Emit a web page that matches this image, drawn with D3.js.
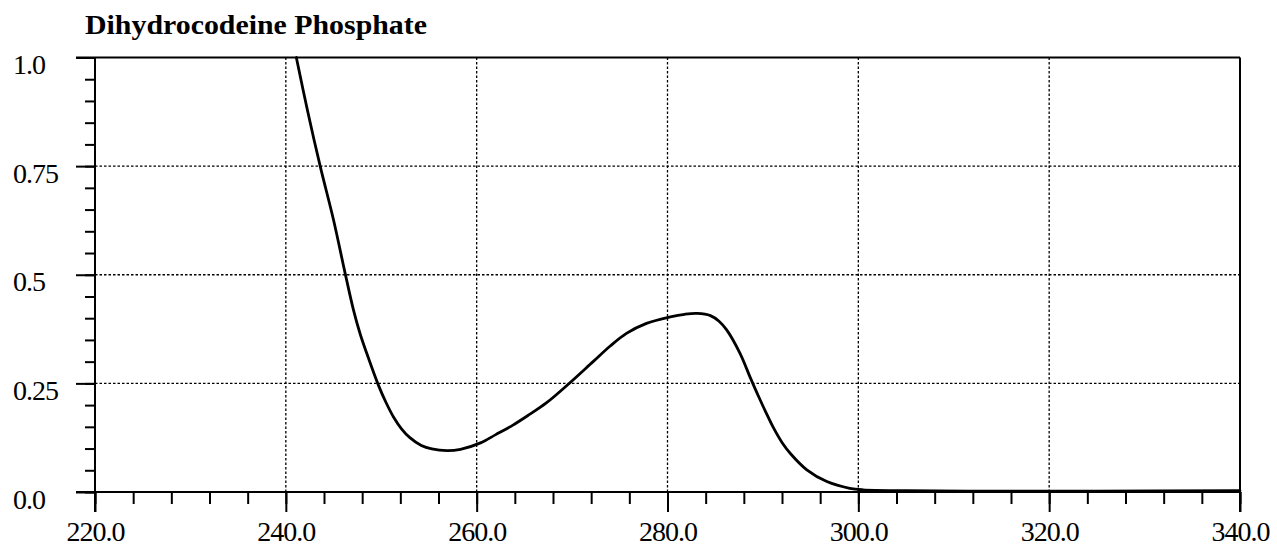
<!DOCTYPE html>
<html>
<head>
<meta charset="utf-8">
<script src="https://cdn.jsdelivr.net/npm/d3@7"></script>
<style>
  html, body { margin: 0; padding: 0; background: #fff; }
  svg { display: block; }
</style>
</head>
<body>
<svg id="chart" width="1277" height="546"></svg>
<script>
const title = "Dihydrocodeine Phosphate";
const wavelength = [241.1, 242.3, 243.6, 245.0, 246.2, 247.1, 247.8, 248.5, 249.7, 250.5, 251.3, 252.1, 253.0, 254.2, 255.3, 256.9, 258.3, 260.4, 262.0, 263.8, 265.5, 267.3, 269.6, 272.2, 274.0, 275.7, 277.8, 280.3, 281.8, 283.1, 284.5, 285.4, 286.2, 287.6, 288.7, 289.5, 290.3, 291.1, 292.0, 292.9, 294.6, 296.7, 299.1, 300.5, 305, 315, 325, 340];
const absorbance = [1.0, 0.875, 0.75, 0.626, 0.505, 0.418, 0.363, 0.318, 0.246, 0.206, 0.172, 0.146, 0.125, 0.107, 0.099, 0.095, 0.098, 0.113, 0.132, 0.154, 0.178, 0.205, 0.248, 0.300, 0.336, 0.365, 0.388, 0.403, 0.409, 0.411, 0.406, 0.393, 0.373, 0.319, 0.262, 0.222, 0.184, 0.148, 0.114, 0.088, 0.051, 0.024, 0.0085, 0.005, 0.003, 0.002, 0.002, 0.003];
const xTickLabels = ["220.0", "240.0", "260.0", "280.0", "300.0", "320.0", "340.0"];
const yTickLabels = ["0.0", "0.25", "0.5", "0.75", "1.0"];
const xMajor = [220, 240, 260, 280, 300, 320, 340];
const yMajor = [0, 0.25, 0.5, 0.75, 1.0];

(function () {
const svg = d3.select("#chart");
const FONT = "'Liberation Serif', 'Times New Roman', serif";
const mLeft = 95, mRight = 1240, mTop = 57.5, mBottom = 492;
const x = d3.scaleLinear().domain([220, 340]).range([mLeft, mRight]);
const y = d3.scaleLinear().domain([0, 1]).range([mBottom, mTop]);

// title
svg.append("text").attr("x", 85).attr("y", 34)
  .attr("font-family", FONT).attr("font-size", 28).attr("font-weight", "bold")
  .attr("textLength", 342).attr("lengthAdjust", "spacingAndGlyphs").text(title);

// grid lines (dotted)
const grid = svg.append("g").attr("stroke", "#000").attr("stroke-width", 1.3).attr("stroke-dasharray", "2.5,2");
grid.selectAll("line.vx").data(xMajor.slice(1, -1)).join("line")
  .attr("x1", d => x(d)).attr("x2", d => x(d)).attr("y1", mTop).attr("y2", mBottom);
grid.selectAll("line.hy").data(yMajor.slice(1, -1)).join("line")
  .attr("x1", mLeft).attr("x2", mRight).attr("y1", d => y(d)).attr("y2", d => y(d));

// minor x ticks
const xMinorAxis = d3.axisBottom(x).tickValues(d3.range(220, 341, 4)).tickSize(12).tickFormat("");
const gxm = svg.append("g").attr("transform", `translate(0,${mBottom})`).call(xMinorAxis);
gxm.select(".domain").remove();
gxm.selectAll("line").attr("stroke-width", 2);

// major x ticks with labels
const xMajorAxis = d3.axisBottom(x).tickValues(xMajor).tickSize(20)
  .tickFormat((d, i) => xTickLabels[i]);
const gx = svg.append("g").attr("transform", `translate(0,${mBottom})`).call(xMajorAxis);
gx.attr("font-family", FONT).attr("font-size", 28);
gx.select(".domain").remove();
gx.selectAll("line").attr("stroke-width", 2);
gx.selectAll("text").attr("dy", null).attr("y", 49).attr("letter-spacing", -1);

// minor y ticks
const yMinorAxis = d3.axisLeft(y).tickValues(d3.range(0, 1.0001, 0.05)).tickSize(10).tickFormat("");
const gym = svg.append("g").attr("transform", `translate(${mLeft},0)`).call(yMinorAxis);
gym.select(".domain").remove();
gym.selectAll("line").attr("stroke-width", 2);

// major y ticks with labels
const yMajorAxis = d3.axisLeft(y).tickValues(yMajor).tickSize(19)
  .tickFormat((d, i) => yTickLabels[i]);
const gy = svg.append("g").attr("transform", `translate(${mLeft},0)`).call(yMajorAxis);
gy.attr("font-family", FONT).attr("font-size", 28).attr("text-anchor", "start");
gy.select(".domain").remove();
gy.selectAll("line").attr("stroke-width", 2);
gy.selectAll("text").attr("x", 13 - mLeft).attr("dy", null).attr("y", 16).attr("letter-spacing", -1);

// frame lines
const frame = svg.append("g").attr("stroke", "#000").attr("stroke-width", 2).attr("fill", "none");
frame.append("line").attr("x1", mLeft - 19).attr("x2", mRight).attr("y1", mTop).attr("y2", mTop);
frame.append("line").attr("x1", mLeft - 19).attr("x2", mRight).attr("y1", mBottom).attr("y2", mBottom);
frame.append("line").attr("x1", mLeft).attr("x2", mLeft).attr("y1", mTop).attr("y2", mBottom + 20);
frame.append("line").attr("x1", mRight).attr("x2", mRight).attr("y1", mTop).attr("y2", mBottom + 20);

// spectrum curve
const pts = wavelength.map((w, i) => [w, absorbance[i]]);
const line = d3.line().x(d => x(d[0])).y(d => y(d[1])).curve(d3.curveCatmullRom.alpha(0.5));
svg.append("path").datum(pts).attr("d", line)
  .attr("fill", "none").attr("stroke", "#000").attr("stroke-width", 2.8)
  .attr("stroke-linejoin", "round").attr("stroke-linecap", "round");
})();
</script>
</body>
</html>
